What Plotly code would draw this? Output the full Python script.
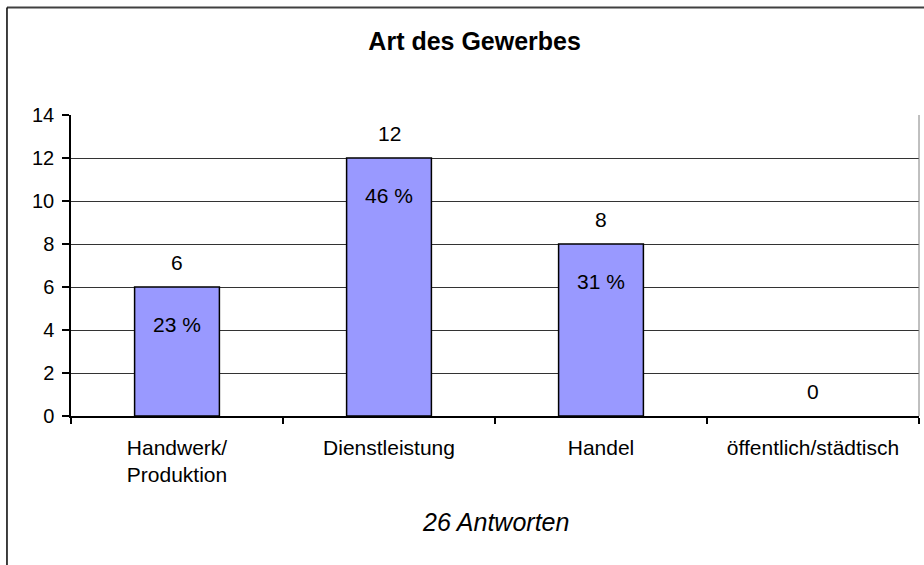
import plotly.graph_objects as go

# Survey answers: type of business
categories = ["Handwerk/<br>Produktion", "Dienstleistung", "Handel", "öffentlich/städtisch"]
counts = [6, 12, 8, 0]
y_ticks = [0, 2, 4, 6, 8, 10, 12, 14]
title_text = "Art des Gewerbes"

total = sum(counts)
percents = [round(c / total * 100) for c in counts]
footer_text = f"{total} Antworten"

FONT = "Liberation Sans, Arial, sans-serif"

fig = go.Figure()
fig.add_trace(go.Bar(
    x=categories,
    y=counts,
    marker=dict(color="#9999FF",
                line=dict(color="#000000", width=[1.5 if c > 0 else 0 for c in counts])),
    hoverinfo="skip",
))

annotations = []
# count above each bar
for cat, val in zip(categories, counts):
    annotations.append(dict(
        x=cat, y=val, xref="x", yref="y", text=str(val), showarrow=False,
        yshift=25, yanchor="middle", font=dict(family=FONT, size=21, color="#000"),
    ))
# share of answers inside each non-empty bar
for cat, val, pct in zip(categories, counts, percents):
    if val > 0:
        annotations.append(dict(
            x=cat, y=val, xref="x", yref="y", text=f"{pct} %", showarrow=False,
            yshift=-37, yanchor="middle", font=dict(family=FONT, size=21, color="#000"),
        ))
annotations.append(dict(
    x=0.5, y=-0.352, xref="paper", yref="paper", text=f"<i>{footer_text}</i>",
    showarrow=False, xanchor="center", yanchor="middle",
    font=dict(family=FONT, size=25, color="#000"),
))

shapes = [
    # outer chart frame (top and left edges)
    dict(type="line", xref="paper", yref="paper", x0=-0.0755, x1=1.02, y0=1.357, y1=1.357,
         line=dict(color="#404040", width=2)),
    dict(type="line", xref="paper", yref="paper", x0=-0.0755, x1=-0.0755, y0=1.357, y1=-0.55,
         line=dict(color="#000000", width=1.5)),
    # right edge of the plot area
    dict(type="line", xref="paper", yref="paper", x0=1, x1=1, y0=0, y1=1,
         line=dict(color="#808080", width=1)),
]

fig.update_layout(
    width=924, height=565,
    margin=dict(l=71, r=5, t=115, b=149),
    paper_bgcolor="#FFFFFF", plot_bgcolor="#FFFFFF",
    bargap=0.6,
    showlegend=False,
    title=dict(text=f"<b>{title_text}</b>", xref="paper", x=0.476, xanchor="center",
               yref="container", y=1 - 41 / 565, yanchor="middle",
               font=dict(family=FONT, size=25, color="#000")),
    annotations=annotations,
    shapes=shapes,
    font=dict(family=FONT, color="#000"),
)

fig.update_xaxes(
    type="category",
    showline=True, linecolor="#000", linewidth=1.5,
    ticks="outside", tickson="boundaries", ticklen=6, tickcolor="#000", tickwidth=1.5,
    showgrid=False,
    tickfont=dict(family=FONT, size=21, color="#000"),
    ticklabelstandoff=12,
)
fig.update_yaxes(
    range=[0, 14],
    tickvals=y_ticks,
    showline=True, linecolor="#000", linewidth=1.5,
    ticks="outside", ticklen=7, tickcolor="#000", tickwidth=1.5,
    showgrid=True, gridcolor="#333333", gridwidth=1,
    zeroline=False,
    tickfont=dict(family=FONT, size=20, color="#000"),
    ticklabelstandoff=4,
)

fig.write_html("out.html")
